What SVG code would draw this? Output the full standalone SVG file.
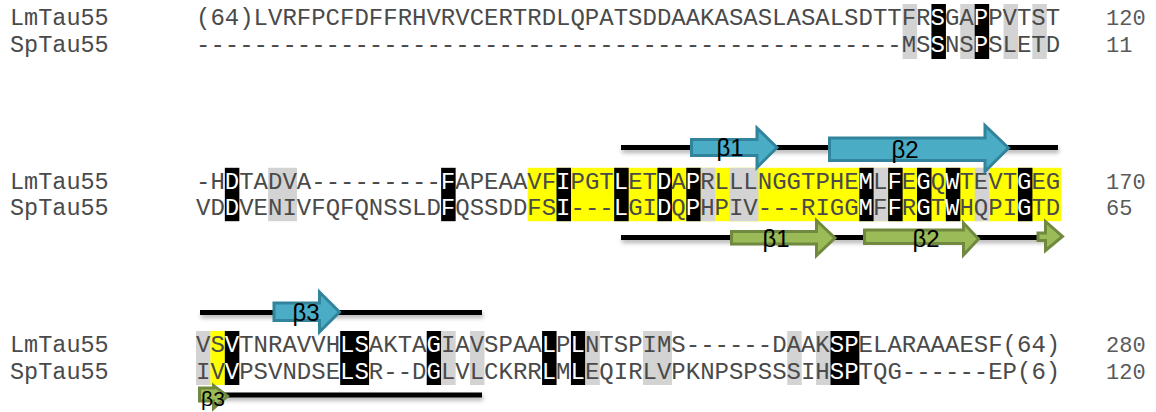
<svg xmlns="http://www.w3.org/2000/svg" width="1156" height="412" viewBox="0 0 1156 412">
<defs>
<style>
.seq{font-family:"Liberation Mono","Courier New",monospace;font-size:24px;fill:#4a4a4a}
.nm{font-family:"Liberation Mono","Courier New",monospace;font-size:23.5px;fill:#4a4a4a}
.num{font-family:"Liberation Mono","Courier New",monospace;font-size:22px;fill:#5a5a5a}
.w{fill:#fff}
.g{fill:#d3d3d3}
.k{fill:#000}
.y{fill:#ffff00}
.ln{fill:#000;filter:url(#sh)}
.ab{fill:#4bacc6;stroke:#31849b;stroke-width:3;stroke-linejoin:miter}
.ag{fill:#9bbb59;stroke:#71893f;stroke-width:3;stroke-linejoin:miter}
.lbl{font-family:"Liberation Sans",Arial,sans-serif;font-size:24px;fill:#000;text-anchor:middle}
.lbs{font-family:"Liberation Sans",Arial,sans-serif;font-size:21px;fill:#000;text-anchor:middle}
</style>
<filter id="sh" filterUnits="userSpaceOnUse" x="0" y="0" width="1156" height="412">
<feDropShadow dx="1" dy="3" stdDeviation="2" flood-color="#000" flood-opacity="0.3"/>
</filter>
</defs>
<rect width="1156" height="412" fill="#fff"/>

<g id="block1">
<g id="block1-shading">
<rect class="g" x="902.58" y="4" width="14.5" height="55"/>
<rect class="k" x="931.42" y="4" width="14.5" height="55"/>
<rect class="g" x="960.26" y="4" width="14.5" height="55"/>
<rect class="k" x="974.68" y="4" width="14.5" height="55"/>
<rect class="g" x="1003.52" y="4" width="14.5" height="55"/>
<rect class="g" x="1032.36" y="4" width="14.5" height="55"/>
</g>
<text class="nm" x="10" y="24.5">LmTau55</text>
<text class="nm" x="10" y="51.8">SpTau55</text>
<text class="seq" x="196" y="24.5">(64)LVRFPCFDFFRHVRVCERTRDLQPATSDDAAKASASLASALSDTTFR<tspan class="w">S</tspan>GA<tspan class="w">P</tspan>PVTST</text>
<text class="seq" x="196" y="51.8">-------------------------------------------------MS<tspan class="w">S</tspan>NS<tspan class="w">P</tspan>SLETD</text>
<text class="num" x="1106" y="24.5">120</text>
<text class="num" x="1106" y="51.8">11</text>
</g>

<g id="block2">
<g id="block2-shading">
<rect class="y" x="527.66" y="167.8" width="533.54" height="53.4"/>
<rect class="k" x="224.84" y="167.8" width="14.5" height="53.4"/>
<rect class="g" x="268.1" y="167.8" width="28.9" height="53.4"/>
<rect class="k" x="441.14" y="167.8" width="14.5" height="53.4"/>
<rect class="k" x="556.5" y="167.8" width="14.5" height="53.4"/>
<rect class="k" x="614.18" y="167.8" width="14.5" height="53.4"/>
<rect class="k" x="657.44" y="167.8" width="14.5" height="53.4"/>
<rect class="k" x="686.28" y="167.8" width="14.5" height="53.4"/>
<rect class="g" x="700.7" y="167.8" width="14.5" height="53.4"/>
<rect class="g" x="729.54" y="167.8" width="28.9" height="53.4"/>
<rect class="k" x="859.32" y="167.8" width="14.5" height="53.4"/>
<rect class="g" x="873.74" y="167.8" width="14.5" height="53.4"/>
<rect class="k" x="888.16" y="167.8" width="14.5" height="53.4"/>
<rect class="k" x="917" y="167.8" width="14.5" height="53.4"/>
<rect class="k" x="945.84" y="167.8" width="14.5" height="53.4"/>
<rect class="g" x="974.68" y="167.8" width="14.5" height="53.4"/>
<rect class="k" x="1017.94" y="167.8" width="14.5" height="53.4"/>
</g>
<text class="nm" x="10" y="188.5">LmTau55</text>
<text class="nm" x="10" y="215.3">SpTau55</text>
<text class="seq" x="196" y="188.5">-H<tspan class="w">D</tspan>TADVA---------<tspan class="w">F</tspan>APEAAVF<tspan class="w">I</tspan>PGT<tspan class="w">L</tspan>ET<tspan class="w">D</tspan>A<tspan class="w">P</tspan>RLLLNGGTPHE<tspan class="w">M</tspan>L<tspan class="w">F</tspan>E<tspan class="w">G</tspan>Q<tspan class="w">W</tspan>TEVT<tspan class="w">G</tspan>EG</text>
<text class="seq" x="196" y="215.3">VD<tspan class="w">D</tspan>VENIVFQFQNSSLD<tspan class="w">F</tspan>QSSDDFS<tspan class="w">I</tspan>---<tspan class="w">L</tspan>GI<tspan class="w">D</tspan>Q<tspan class="w">P</tspan>HPIV---RIGG<tspan class="w">M</tspan>F<tspan class="w">F</tspan>R<tspan class="w">G</tspan>T<tspan class="w">W</tspan>HQPI<tspan class="w">G</tspan>TD</text>
<text class="num" x="1106" y="188.5">170</text>
<text class="num" x="1106" y="215.3">65</text>
</g>

<g id="block3">
<g id="block3-shading">
<rect class="g" x="196" y="331" width="14.5" height="54"/>
<rect class="y" x="210.42" y="331" width="14.5" height="54"/>
<rect class="k" x="224.84" y="331" width="14.5" height="54"/>
<rect class="k" x="340.2" y="331" width="28.9" height="54"/>
<rect class="k" x="426.72" y="331" width="14.5" height="54"/>
<rect class="g" x="441.14" y="331" width="14.5" height="54"/>
<rect class="g" x="469.98" y="331" width="14.5" height="54"/>
<rect class="k" x="542.08" y="331" width="14.5" height="54"/>
<rect class="k" x="570.92" y="331" width="14.5" height="54"/>
<rect class="g" x="585.34" y="331" width="14.5" height="54"/>
<rect class="g" x="643.02" y="331" width="28.9" height="54"/>
<rect class="g" x="787.22" y="331" width="14.5" height="54"/>
<rect class="g" x="816.06" y="331" width="14.5" height="54"/>
<rect class="k" x="830.48" y="331" width="28.9" height="54"/>
</g>
<text class="nm" x="10" y="351.5">LmTau55</text>
<text class="nm" x="10" y="378.7">SpTau55</text>
<text class="seq" x="196" y="351.5">VS<tspan class="w">V</tspan>TNRAVVH<tspan class="w">LS</tspan>AKTA<tspan class="w">G</tspan>IAVSPAA<tspan class="w">L</tspan>P<tspan class="w">L</tspan>NTSPIMS------DAAK<tspan class="w">SP</tspan>ELARAAAESF(64)</text>
<text class="seq" x="196" y="378.7">IV<tspan class="w">V</tspan>PSVNDSE<tspan class="w">LS</tspan>R--D<tspan class="w">G</tspan>LVLCKRR<tspan class="w">L</tspan>M<tspan class="w">L</tspan>EQIRLVPKNPSPSSSIH<tspan class="w">SP</tspan>TQG------EP(6)</text>
<text class="num" x="1106" y="351.5">280</text>
<text class="num" x="1106" y="378.7">120</text>
</g>

<g id="connectors">
<rect class="ln" x="621" y="145" width="437" height="5"/>
<rect class="ln" x="621" y="235" width="424" height="5"/>
<rect class="ln" x="200" y="310" width="282" height="5"/>
<rect class="ln" x="200" y="392.5" width="282" height="5"/>
</g>

<g id="strands">
<g id="blue-b1">
<polygon class="ab" points="691.5,139.5 757,139.5 757,128 777,147.5 757,167.5 757,155.5 691.5,155.5"/>
<text class="lbl" x="730" y="156">β1</text>
</g>
<g id="blue-b2">
<polygon class="ab" points="829.5,138 985,138 985,125.5 1008.5,148 985,171.5 985,160.5 829.5,160.5"/>
<text class="lbl" x="905" y="157.5">β2</text>
</g>
<g id="green-b1">
<polygon class="ag" points="731.5,231.5 816.5,231.5 816.5,220.5 835,238 816.5,255.5 816.5,244 731.5,244"/>
<text class="lbl" x="776" y="247">β1</text>
</g>
<g id="green-b2">
<polygon class="ag" points="864.5,230 963.5,230 963.5,223 978.5,239 963.5,255 963.5,243.5 864.5,243.5"/>
<text class="lbl" x="926" y="247">β2</text>
</g>
<g id="green-b3a">
<polygon class="ag" points="1038,233 1045.5,233 1045.5,221.5 1062.5,236.5 1045.5,250.5 1045.5,240.5 1038,240.5"/>
</g>
<g id="blue-b3">
<polygon class="ab" points="274,303 319.5,303 319.5,292 339.5,312 319.5,332 319.5,320.5 274,320.5"/>
<text class="lbl" x="306" y="321">β3</text>
</g>
<g id="green-b3">
<polygon class="ag" points="199.5,388 213.5,388 213.5,385.5 227.5,396 213.5,408.5 213.5,401 199.5,401"/>
<text class="lbs" x="213" y="405.5">β3</text>
</g>
</g>
</svg>
